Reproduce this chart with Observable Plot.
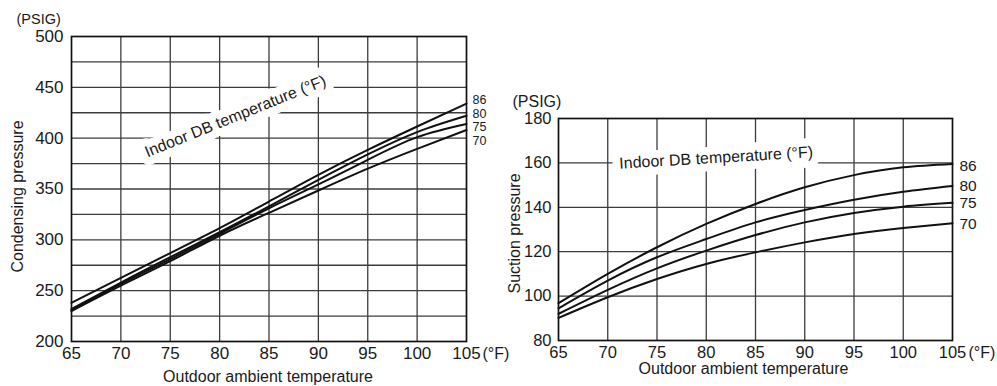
<!DOCTYPE html>
<html><head><meta charset="utf-8">
<script src="https://cdn.jsdelivr.net/npm/d3@7"></script>
<script src="https://cdn.jsdelivr.net/npm/@observablehq/plot@0.6"></script>
<style>
body{margin:0;background:#fff;}
#wrap{position:relative;width:997px;height:386px;overflow:hidden;background:#fff;}
#left{position:absolute;left:0;top:0;}
#right{position:absolute;left:497px;top:0;}
</style></head><body><div id="wrap"><div id="left"></div><div id="right"></div></div>
<script>
// ---- data ----
const outdoorTemps = [65, 70, 75, 80, 85, 90, 95, 100, 105];
const indoorTemps = ["86", "80", "75", "70"];
const condensing86 = [238, 262.6, 287, 311.5, 337.7, 364, 388.5, 411.5, 434];
const condensing80 = [232, 258, 283, 307.5, 333, 359, 384, 406, 422];
const condensing75 = [230.5, 256.7, 281, 306, 331, 354.5, 378.7, 401, 414];
const condensing70 = [230, 255, 279, 304, 326.6, 348.5, 370, 389.5, 408];
const suction86 = [96.8, 110, 122, 132.5, 141.5, 149, 154.5, 158, 159.5];
const suction80 = [94.5, 107, 117.5, 125.7, 133.2, 138.8, 143.4, 147, 149.6];
const suction75 = [92, 102.8, 112.5, 120.5, 127.5, 133.2, 137.4, 140.3, 142];
const suction70 = [90.2, 99.5, 107.7, 114.5, 119.7, 124.2, 128, 130.7, 132.8];
const xTickLabels = [65, 70, 75, 80, 85, 90, 95, 100, 105];
const condTickLabels = [200, 250, 300, 350, 400, 450, 500];
const condGridValues = [225, 250, 275, 300, 325, 350, 375, 400, 425, 450, 475];
const suctTickLabels = [80, 100, 120, 140, 160, 180];
const suctGridValues = [100, 120, 140, 160];
const xGridValues = [70, 75, 80, 85, 90, 95, 100];
const annotation = "Indoor DB temperature (°F)";

// ---- build tidy tables ----
function tidy(seriesArrays) {
  const rows = [];
  indoorTemps.forEach((s, i) => {
    outdoorTemps.forEach((t, j) => rows.push({s, t, p: seriesArrays[i][j]}));
  });
  return rows;
}
const condRows = tidy([condensing86, condensing80, condensing75, condensing70]);
const suctRows = tidy([suction86, suction80, suction75, suction70]);
const lastOf = rows => indoorTemps.map(s => rows.filter(r => r.s === s).at(-1));

const font = '"Liberation Sans", Arial, Helvetica, sans-serif';
const ink = "#1a1a1a";
const gridStroke = "#3c3c3c";

function panel(o) {
  const ends = lastOf(o.rows);
  return Plot.plot({
    width: o.width, height: 386,
    marginLeft: o.ml, marginRight: o.mr, marginTop: o.mt, marginBottom: o.mb,
    style: {fontFamily: font, background: "transparent", color: ink, overflow: "visible"},
    x: {domain: [65, 105]},
    y: {domain: o.yDomain},
    marks: [
      Plot.ruleX(xGridValues, {stroke: gridStroke, strokeWidth: 1.3}),
      Plot.ruleY(o.grid, {stroke: gridStroke, strokeWidth: 1.3}),
      Plot.text([annotation], {x: o.ann[0], y: o.ann[1], text: d => d, rotate: o.ann[2],
        fontSize: 16, fill: ink, stroke: "white", strokeWidth: 16, paintOrder: "stroke", strokeLinejoin: "round"}),
      Plot.frame({stroke: "#111", strokeWidth: 1.7}),
      Plot.line(o.rows, {x: "t", y: "p", z: "s", curve: "natural", stroke: "#111", strokeWidth: 2}),
      ...ends.map((d, i) => Plot.text([d], {x: "t", y: "p", text: "s", dx: o.labDx, dy: o.labDy[i],
        textAnchor: "start", lineAnchor: "middle", fontSize: o.labFont, fill: ink})),
      Plot.axisX(xTickLabels, {tickSize: 0, tickPadding: o.xPad, fontSize: o.tickFont, label: null, fill: ink}),
      Plot.axisY(o.ticks, {tickSize: 0, tickPadding: o.yPad, fontSize: o.tickFont, label: null, fill: ink}),
      Plot.text(["(PSIG)"], {frameAnchor: "top-left", dx: o.psig[0], dy: o.psig[1], textAnchor: "start", lineAnchor: "middle", fontSize: o.psigFont, fill: ink}),
      Plot.text(["(°F)"], {frameAnchor: "bottom-right", dx: o.degF[0], dy: o.degF[1], textAnchor: "start", lineAnchor: "middle", fontSize: 16, fill: ink}),
      Plot.text([o.yTitle], {frameAnchor: "left", rotate: -90, dx: o.yt[0], dy: o.yt[1], textAnchor: "middle", lineAnchor: "middle", fontSize: 16, fill: ink}),
      Plot.text(["Outdoor ambient temperature"], {frameAnchor: "bottom", dx: o.xt[0], dy: o.xt[1], textAnchor: "middle", lineAnchor: "middle", fontSize: 16, fill: ink})
    ]
  });
}

document.getElementById("left").append(panel({
  rows: condRows, width: 497, ml: 71, mr: 31, mt: 36, mb: 45,
  yDomain: [200, 500], grid: condGridValues, ticks: condTickLabels,
  ann: [81.6, 421.5, -22], labDx: 6, labDy: [-3.6, -2.3, 3.1, 10.5], labFont: 12.5,
  xPad: 5, yPad: 8, tickFont: 17,
  psig: [-55, -17.5], psigFont: 14.5, degF: [16, 12], yTitle: "Condensing pressure", yt: [-54, 7.5], xt: [-1, 35]
}));
document.getElementById("right").append(panel({
  rows: suctRows, width: 500, ml: 61, mr: 45, mt: 118, mb: 46,
  yDomain: [80, 180], grid: suctGridValues, ticks: suctTickLabels,
  ann: [81.0, 162.3, -3.4], labDx: 7, labDy: [2, 0, 0, 0.5], labFont: 15.5,
  xPad: 6, yPad: 7, tickFont: 16.5,
  psig: [-46, -17], psigFont: 16, degF: [16, 12], yTitle: "Suction pressure", yt: [-44, 4], xt: [-12, 28]
}));
</script></body></html>
